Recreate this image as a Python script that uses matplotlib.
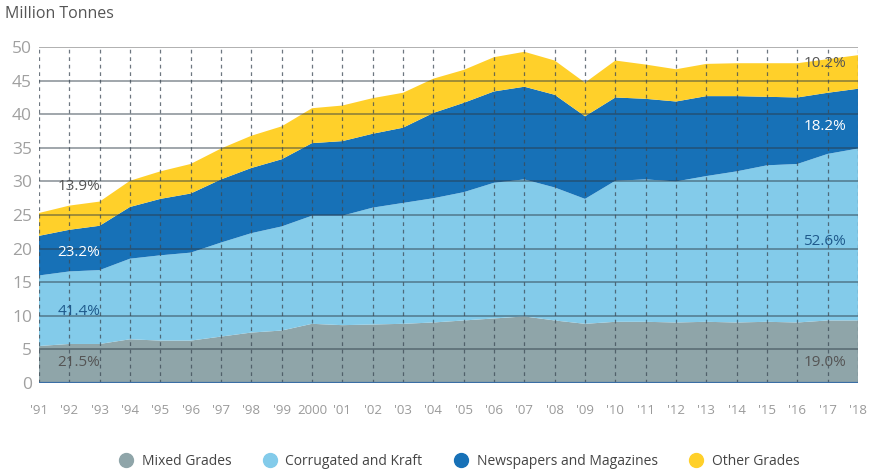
import numpy as np
import matplotlib.pyplot as plt
from matplotlib.lines import Line2D

years = list(range(1991, 2019))
tick_labels = ["'91", "'92", "'93", "'94", "'95", "'96", "'97", "'98", "'99", "2000",
               "'01", "'02", "'03", "'04", "'05", "'06", "'07", "'08", "'09", "'10",
               "'11", "'12", "'13", "'14", "'15", "'16", "'17", "'18"]

# million tonnes per grade
mixed = [5.5, 5.8, 5.8, 6.5, 6.3, 6.3, 6.9, 7.5, 7.8, 8.8, 8.6, 8.7, 8.8, 9.0,
         9.3, 9.6, 9.9, 9.3, 8.8, 9.1, 9.1, 9.0, 9.1, 9.0, 9.1, 9.0, 9.3, 9.3]
corrugated = [10.5, 10.8, 11.0, 12.0, 12.7, 13.1, 14.0, 14.8, 15.5, 16.1, 16.3, 17.4, 18.0, 18.5,
              19.1, 20.2, 20.4, 19.8, 18.6, 21.0, 21.2, 21.0, 21.7, 22.5, 23.3, 23.6, 24.8, 25.6]
newspapers = [5.9, 6.2, 6.6, 7.7, 8.4, 8.8, 9.4, 9.7, 10.0, 10.8, 11.1, 11.0, 11.2, 12.7,
              13.3, 13.6, 13.8, 13.8, 12.3, 12.4, 12.0, 11.9, 11.9, 11.2, 10.2, 9.9, 9.1, 8.9]
other = [3.4, 3.6, 3.6, 3.9, 4.1, 4.4, 4.6, 4.8, 4.9, 5.2, 5.3, 5.3, 5.2, 5.1,
         4.9, 5.1, 5.2, 5.1, 5.0, 5.5, 5.1, 4.8, 4.8, 4.9, 5.0, 5.1, 5.0, 5.0]

series_names = ['Mixed Grades', 'Corrugated and Kraft', 'Newspapers and Magazines', 'Other Grades']
colors = ['#8fa5a9', '#83cbea', '#1771b7', '#ffd02a']

# share labels at start and end year
share_1991 = ['21.5%', '41.4%', '23.2%', '13.9%']
share_2018 = ['19.0%', '52.6%', '18.2%', '10.2%']

plt.rcParams['font.family'] = ['Open Sans', 'DejaVu Sans']

fig = plt.figure(figsize=(8.75, 4.71), dpi=100)
ax = fig.add_axes([0.0446, 0.187, 0.936, 0.713])

ax.stackplot(years, mixed, corrugated, newspapers, other, colors=colors, linewidth=0, zorder=1)

# grid drawn over the areas
for y in range(5, 50, 5):
    ax.axhline(y, color='#2b3a45', alpha=0.45, linewidth=1.4, zorder=3)
ax.axhline(50, color='#b0b0b0', linewidth=1.4, zorder=3)
ax.axhline(0, color='#3a6ea5', linewidth=1.6, zorder=4)
for x in years:
    ax.axvline(x, color='#3d4a55', alpha=0.75, linewidth=0.9, linestyle=(0, (3, 3)), zorder=3)

ax.set_xlim(years[0], years[-1])
ax.set_ylim(0, 50)
ax.set_xticks(years)
ax.set_xticklabels(tick_labels)
ax.set_yticks(range(0, 51, 5))
ax.tick_params(axis='x', length=0, pad=15, labelsize=9.5, colors='#9a9a9a')
ax.tick_params(axis='y', length=0, pad=5, labelsize=12.5, colors='#a0a0a0')
for side in ax.spines.values():
    side.set_visible(False)

fig.text(0.006, 0.97, 'Million Tonnes', fontsize=11.5, color='#555555', va='center')

# share annotations
label_colors = ['#555555', '#1f5a8c', 'white', '#555555']
left_y = [3.1, 10.7, 19.4, 29.2]
right_y = [3.1, 21.0, 38.2, 47.5]
for i in range(4):
    ax.text(1991.6, left_y[i], share_1991[i], fontsize=11, color=label_colors[i],
            va='center', ha='left', zorder=5)
    ax.text(2016.2, right_y[i], share_2018[i], fontsize=11, color=label_colors[i],
            va='center', ha='left', zorder=5)

handles = [Line2D([], [], marker='o', linestyle='', markersize=10,
                  markerfacecolor=c, markeredgecolor=c) for c in colors]
fig.legend(handles, series_names, loc='center', bbox_to_anchor=(0.521, 0.02),
           ncol=4, frameon=False, fontsize=10, labelcolor='#444444',
           columnspacing=1.8, handletextpad=0.1)

fig.savefig('out.png', dpi=100)
